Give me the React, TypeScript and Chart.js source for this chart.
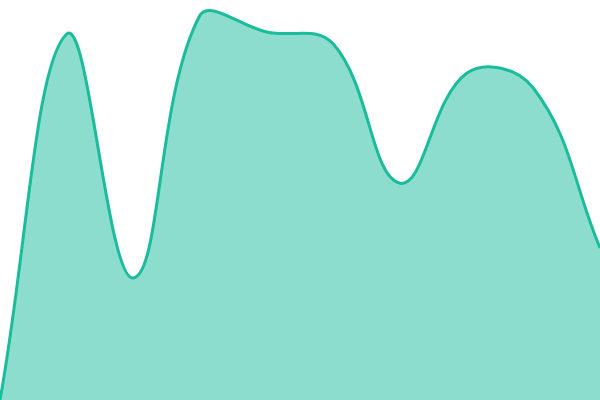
import { useEffect, useRef } from 'react';
import Chart from 'chart.js/auto';

const labels = ['1', '2', '3', '4', '5', '6', '7', '8', '9', '10'];
const values = [0, 91.5, 30.5, 96.2, 92, 89, 54.2, 81.7, 78, 38];

const AreaChart = () => {
    const chartRef = useRef<HTMLCanvasElement | null>(null);

    useEffect(() => {
        const ctx = chartRef.current;
        if (!ctx) return;

        const chart = new Chart(ctx, {
            type: 'line',
            data: {
                labels,
                datasets: [{
                    data: values,
                    borderColor: '#1abc9c',
                    backgroundColor: 'rgba(26, 188, 156, 0.5)',
                    borderWidth: 3,
                    fill: 'origin',
                    tension: 0.4,
                    pointRadius: 0,
                }]
            },
            options: {
                animation: false,
                responsive: true,
                maintainAspectRatio: false,
                layout: { padding: 0 },
                plugins: {
                    legend: { display: false },
                    tooltip: { enabled: false },
                },
                scales: {
                    x: { display: false },
                    y: { display: false, min: 0, max: 100 },
                },
            }
        });

        return () => {
            chart.destroy();
        };
    }, []);

    return (
        <div style={{ position: 'absolute', left: 0, top: 0, width: 600, height: 400 }}>
            <canvas ref={chartRef}></canvas>
        </div>
    );
};

export default function App() {
    return <AreaChart />;
}
